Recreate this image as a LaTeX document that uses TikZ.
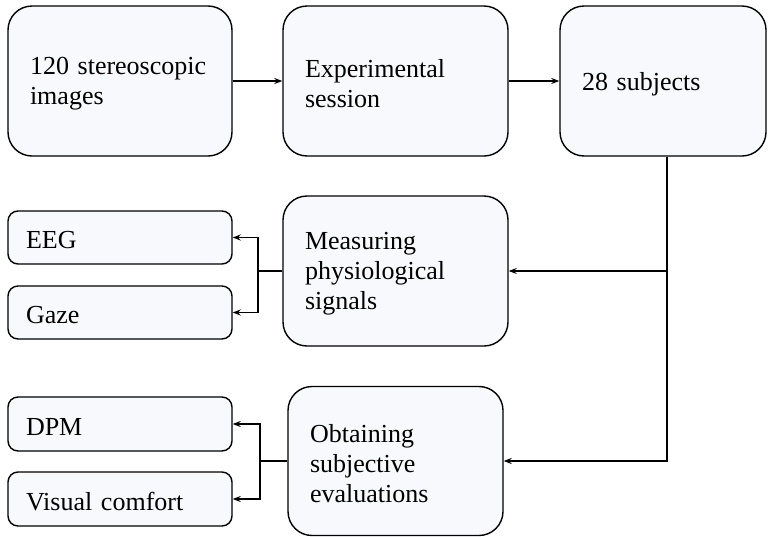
\documentclass[tikz,border=0pt]{standalone}
\usepackage{fontspec}
\setmainfont{Liberation Serif}
\usetikzlibrary{arrows.meta}
\definecolor{boxfill}{RGB}{248,249,252}
\tikzset{
  base/.style={draw=black, fill=boxfill, line width=1.4pt},
  bigbox/.style={base, rounded corners=24pt, minimum height=150pt},
  smallbox/.style={base, rounded corners=10pt, minimum height=53pt, minimum width=224pt},
  txt/.style={font=\fontsize{26}{30}\selectfont, align=left, inner sep=0pt, yshift=-3pt},
  arr/.style={line width=1.4pt, -{Stealth[length=8pt,width=6pt]}},
  ln/.style={line width=1.4pt}
}
\begin{document}
\begin{tikzpicture}[x=1pt,y=-1pt]
\useasboundingbox (0,0) rectangle (768,536);
\node[bigbox, minimum width=224pt, label={[txt, text width=180pt]center:{120 stereoscopic\\images}}] (a) at (120,81) {};
\node[bigbox, minimum width=225pt, label={[txt, text width=181pt]center:{Experimental\\session}}] (b) at (395.5,81) {};
\node[bigbox, minimum width=206pt, label={[txt, text width=162pt]center:{28 subjects}}] (c) at (663,81) {};
\node[bigbox, minimum width=225pt, label={[txt, text width=181pt]center:{Measuring\\physiological\\signals}}] (m) at (395.5,271) {};
\node[bigbox, minimum width=215pt, minimum height=149pt, label={[txt, text width=171pt]center:{Obtaining\\subjective\\evaluations}}] (o) at (395.5,461) {};
\node[smallbox, label={[txt, text width=188pt]center:{EEG}}] (eeg) at (120,237.5) {};
\node[smallbox, label={[txt, text width=188pt]center:{Gaze}}] (gaze) at (120,312.5) {};
\node[smallbox, minimum height=54pt, label={[txt, text width=188pt]center:{DPM}}] (dpm) at (120,424) {};
\node[smallbox, minimum height=54pt, label={[txt, text width=188pt]center:{Visual comfort}}] (vc) at (120,499) {};
\coordinate (j1) at (667,271);
\coordinate (j2) at (667,461);
\coordinate (b1) at (258,271);
\coordinate (b2) at (260,461);
\draw[arr] (a) -- (b);
\draw[arr] (b) -- (c);
\draw[ln] (c.south -| j1) -- (j1);
\draw[arr] (j1) -- (m.east);
\draw[arr] (j1) -- (j2) -- (o.east);
\draw[ln] (m.west) -- (b1);
\draw[arr] (b1) |- (eeg.east);
\draw[arr] (b1) |- (gaze.east);
\draw[ln] (o.west) -- (b2);
\draw[arr] (b2) |- (dpm.east);
\draw[arr] (b2) |- (vc.east);
\end{tikzpicture}
\end{document}
